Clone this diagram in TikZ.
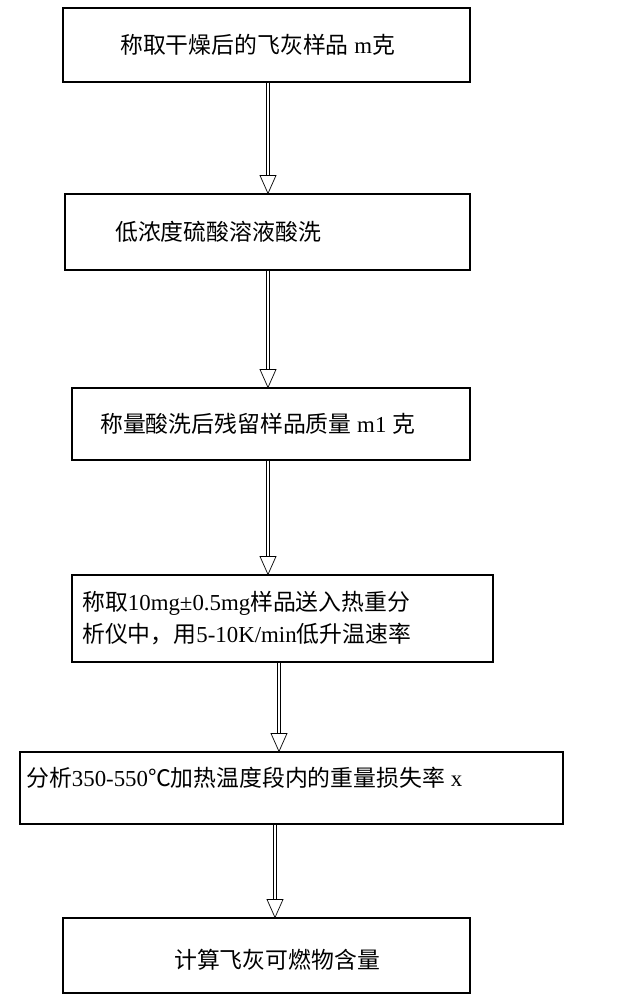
\documentclass[tikz,border=0pt]{standalone}
\usepackage{fontspec}
\setmainfont{Liberation Serif}
\newfontfamily\cjk{Noto Sans CJK SC}
\usetikzlibrary{arrows.meta,calc}
\tikzstyle{stepbox} = [draw=black,line width=0.9pt,rectangle,inner sep=0pt]
\tikzstyle{txt} = [font=\fontsize{19.5}{27}\selectfont,inner sep=0pt,anchor=west,align=left]
\tikzstyle{shaft} = [draw=black,double,double distance=1.6pt,line width=0.6pt]
\tikzstyle{head} = [draw=black,fill=white,line width=0.6pt]
\begin{document}
\begin{tikzpicture}[x=0.03cm,y=-0.03cm]
	\useasboundingbox (0,0) rectangle (619,1000);
	\node (weigh) [stepbox,minimum width=407*0.03cm,minimum height=74*0.03cm] at (266.5,45) {};
	\node (wash) [stepbox,minimum width=405*0.03cm,minimum height=76*0.03cm] at (267.5,232) {};
	\node (resid) [stepbox,minimum width=398*0.03cm,minimum height=72*0.03cm] at (271,424) {};
	\node (tga) [stepbox,minimum width=421*0.03cm,minimum height=87*0.03cm] at (282.5,618.5) {};
	\node (loss) [stepbox,minimum width=543*0.03cm,minimum height=72*0.03cm] at (291.5,788) {};
	\node (calc) [stepbox,minimum width=407*0.03cm,minimum height=75*0.03cm] at (266.5,955.5) {};
	% texts
	\node (t1) [txt] at (120,45) {{\cjk 称取干燥后的飞灰样品} m{\cjk 克}};
	\node (t2) [txt] at (115,232) {{\cjk 低浓度硫酸溶液酸洗}};
	\node (t3) [txt] at (100,424) {{\cjk 称量酸洗后残留样品质量} m1 {\cjk 克}};
	\node (t4) [txt] at (82,618) {{\cjk 称取}10mg±0.5mg{\cjk 样品送入热重分}\\{\cjk 析仪中，用}5-10K/min{\cjk 低升温速率}};
	\node (t5) [txt] at (26,778) {{\cjk 分析}350-550{\cjk ℃加热温度段内的重量损失率} x};
	\node (t6) [txt] at (174,960) {{\cjk 计算飞灰可燃物含量}};
	% arrows
	\foreach \a/\b/\x in {weigh/wash/268,wash/resid/268,resid/tga/268,tga/loss/279,loss/calc/275}{
		\coordinate (s) at (\a.south -| \x,0);
		\coordinate (e) at (\b.north -| \x,0);
		\draw [shaft] (s) -- ($(e)+(0,-18)$);
		\draw [head] (e) -- ++(-8,-18) -- ++(16,0) -- cycle;
	}
\end{tikzpicture}
\end{document}
